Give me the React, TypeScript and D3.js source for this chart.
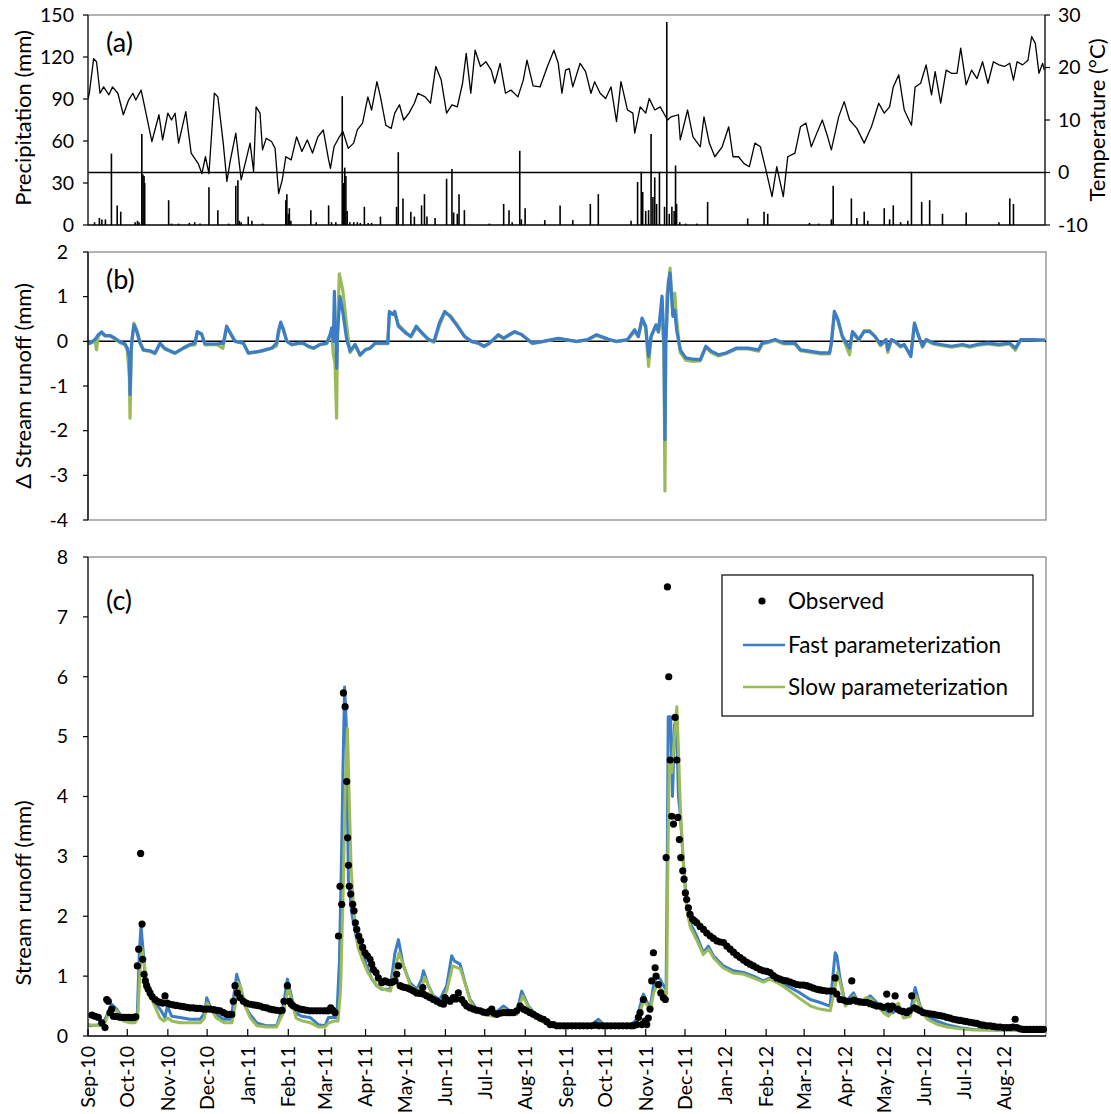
import React from "react";
import * as d3 from "d3";

// ---------- data (day offsets from 1 Sep 2010) ----------
const START = new Date(2010, 8, 1);
const END = new Date(2012, 8, 1);

const monthLabels = [
  "Sep-10", "Oct-10", "Nov-10", "Dec-10", "Jan-11", "Feb-11", "Mar-11", "Apr-11",
  "May-11", "Jun-11", "Jul-11", "Aug-11", "Sep-11", "Oct-11", "Nov-11", "Dec-11",
  "Jan-12", "Feb-12", "Mar-12", "Apr-12", "May-12", "Jun-12", "Jul-12", "Aug-12",
];

const precipTicks = [0, 30, 60, 90, 120, 150];
const tempTicks = [-10, 0, 10, 20, 30];
const deltaTicks = [-4, -3, -2, -1, 0, 1, 2];
const runoffTicks = [0, 1, 2, 3, 4, 5, 6, 7, 8];

// daily air temperature (°C)
const temperature: [number, number][] = [
  [0, 14.0], [1, 15.1], [4.3, 21.7], [6.5, 21.1], [9.2, 15.1], [11.9, 16.3], [16, 14.8], [18.7, 16.3], [22.8, 15.1],
  [27, 11], [31, 13.8], [34.3, 15.1], [36.5, 13.8], [40.6, 15.7], [43.3, 12.5], [48.8, 5.9], [54.2, 11],
  [57, 6.2], [61, 11.3], [63.8, 10], [66.5, 11.3], [69.2, 5.6], [74.7, 11.6], [78.8, 3.7], [84.2, 1.7],
  [87, -0.2], [89.7, 3], [92.4, -0.2], [96.5, 15.1], [99.2, 14.4], [103.3, 5.6], [106.1, -1.7], [108.8, 2.4],
  [112.9, 7.5], [117, -1.4], [123.8, 5.6], [126.5, 0.2], [128.4, 12.5], [131.4, 11.3], [133.3, 4.3],
  [136.1, 6.5], [140.2, 5.9], [142.9, 4.6], [145.6, -4], [148.4, -1.4], [151.1, 3], [155.2, 2.4],
  [159.3, 6.8], [163.4, 4], [167.5, 6.2], [171.5, 3.7], [175.6, 6.8], [179.7, 8.1], [183.8, 2.4],
  [185.2, 0.8], [187.9, 4.9], [192, 6.8], [194.7, 7.8], [198.8, 4.6], [202.9, 5.6], [205.7, 8.1],
  [209.7, 9.4], [213.8, 14.4], [216.6, 11.9], [220.7, 17.3], [223.4, 14.4], [227.5, 9], [231.6, 8.4],
  [234.3, 11.3], [237.9, 12.9], [241.1, 10], [245.2, 11.3], [249.3, 13.2], [252, 15.1], [257.5, 14.4],
  [261.6, 13.2], [265.7, 20.2], [269.8, 17.6], [273.9, 11.3], [278, 12.9], [282.1, 12.5], [286.1, 17],
  [288.9, 22.7], [292.4, 15.1], [295.7, 23.3], [299.8, 20.2], [303.9, 21.1], [308, 19.5], [310.7, 17],
  [314.8, 20.8], [318.9, 15.1], [323, 15.7], [328.4, 14.4], [332.5, 17.6], [335.3, 21.4], [340, 16.5],
  [345.3, 16.3], [350.9, 20.2], [355.9, 23.3], [359.2, 20.8], [362, 15.1], [364.8, 19.5], [367.6, 19.8],
  [370.3, 16.3], [375.9, 20.8], [380.1, 19.2], [384.2, 15.1], [387, 17.3], [391.2, 15.1], [395.4, 14.1],
  [399.5, 16.3], [403.7, 9.7], [407.1, 17.3], [412.1, 11.9], [416.2, 11.3], [417.6, 7.5], [421.8, 12.5],
  [426, 11.3], [428.7, 14.1], [432.9, 11.9], [437.1, 12.5], [442.7, 10], [445.4, 10.6], [451, 11],
  [452.4, 6.2], [458, 11.9], [462.1, 6.8], [467.7, 4.9], [470.5, 10.6], [474.6, 5.6], [478.8, 3],
  [484.4, 4.9], [489.4, 8.7], [492.7, 3], [496.9, 3], [501.1, 1.7], [505.2, 1.1], [509.4, 5.6],
  [513.6, 4.9], [517.8, 0.5], [522.5, -4.6], [526.1, 1.1], [531.1, -4.6], [534.5, 3], [540, 3.7],
  [544.2, 8.7], [548.4, 9.4], [552.5, 4.9], [556.7, 7.5], [560.9, 10], [565, 6.8], [567.8, 4.3],
  [573.4, 10.6], [577.6, 13.5], [581.7, 10], [587.3, 8.4], [592.9, 5.6], [598.4, 8.7], [604, 13.2],
  [608.2, 11.3], [612.3, 12.5], [615.1, 16.3], [619.3, 18.6], [623.5, 11.9], [629, 9], [631.8, 16.3],
  [636, 17], [640.2, 20.5], [644.3, 14.8], [647.1, 19.2], [651.3, 13.2], [655.5, 19.5], [659.6, 18.9],
  [663.8, 18.9], [666.6, 23.7], [670.8, 16.7], [674.9, 19.5], [679.1, 17.9], [683.3, 21.1], [687.4, 17],
  [691.6, 21.1], [695.8, 20.5], [700, 20.2], [704.1, 20.8], [706.9, 17.6], [709.7, 21.1], [713.9, 20.5],
  [718, 21.4], [720.8, 25.9], [723.6, 24.6], [726.4, 18.9], [729.2, 20.8], [730.5, 19.5],
];

// daily precipitation (mm)
const precipitation: [number, number][] = [
  [5, 2], [8.7, 5], [10.6, 4], [13.3, 4], [17.9, 51], [22.3, 14], [25, 9.5], [36, 2], [37.8, 3], [39, 2],
  [41.1, 65], [42, 36], [42.8, 35], [43.3, 30], [61.6, 17.7], [63.8, 1], [69.2, 1], [77.4, 1.5], [81.5, 2],
  [85.6, 1], [92.4, 27], [99.2, 10.6], [107.4, 1], [112.9, 28], [114.5, 32], [115.6, 3], [117, 2],
  [122.4, 6], [125.2, 3], [133.3, 1], [151.1, 17.7], [151.9, 22], [153, 8], [153.8, 12], [155, 3],
  [170.2, 10.6], [174.3, 2], [183.8, 14], [186, 2], [189.3, 2], [194.2, 92], [195.3, 30], [196.1, 41],
  [197, 35], [198, 10], [200, 2], [203, 2], [205.7, 2], [208, 1.5], [211.1, 13], [214, 1.5], [216.6, 1.5],
  [223.4, 6], [235.7, 13], [237, 52], [240.6, 19], [246.6, 9.5], [249.3, 6], [254.8, 14], [257, 22],
  [258.9, 6], [265.1, 5], [273.9, 33], [278, 40], [279.3, 9], [282.1, 8], [283.4, 22], [287.5, 10.6],
  [306.6, 1], [317.5, 15], [321.6, 10.6], [324, 2], [329.8, 53], [331, 4], [333.9, 12], [348.9, 3.5],
  [360.6, 14], [370.3, 3.5], [383.7, 15], [389.8, 22], [414.8, 3], [419.8, 30.7], [422.6, 38],
  [423.7, 23.6], [426, 10], [428.2, 10.6], [430.1, 65], [431.5, 20], [432.9, 34], [434.3, 15],
  [436.5, 38], [440.4, 13], [442.1, 145], [444, 8], [446, 13], [447.7, 10], [448.8, 42.5], [449.6, 15],
  [452, 2], [456.6, 1], [465, 1], [473.3, 16.5], [503.9, 4.7], [516.4, 9.5], [519.2, 8], [551.1, 1.5],
  [558.1, 1], [567.8, 4], [569.2, 28], [583.1, 19], [587.3, 5], [592.9, 9.5], [595.6, 3], [608.2, 12],
  [612.3, 4], [615.1, 14], [620.7, 2], [626.2, 3], [629, 38], [636.8, 16.5], [642.9, 17.7], [652.7, 8],
  [670.8, 9], [695.8, 2], [704.1, 19], [706.9, 15],
];

// (b) difference in stream runoff (mm)
const deltaFast: [number, number][] = [
  [0, -0.04], [1.5, -0.04], [5.3, 0.04], [7.9, 0.15], [10.4, 0.21], [13, 0.13], [16.8, 0.13], [20.6, 0.07],
  [24.4, -0.01], [28.3, -0.06], [30, -0.15], [31.6, -0.37], [32.1, -1.19], [33, -0.2], [33.4, 0],
  [35.1, 0.37], [37.2, 0.22], [39.7, -0.04], [42.3, -0.19], [47.4, -0.21], [51.2, -0.26], [55, -0.04],
  [58.8, -0.16], [66.5, -0.26], [72.8, -0.15], [77.9, -0.07], [81.7, -0.04], [83.5, 0.22], [86.8, 0.16],
  [89.4, -0.06], [98.3, -0.06], [103.4, -0.04], [105.9, 0.34], [108.5, 0.19], [112.3, 0], [118.7, -0.04],
  [122.5, -0.26], [131.4, -0.22], [140.3, -0.15], [144.1, -0.04], [145.4, 0.22], [147.2, 0.43],
  [149.2, 0.26], [151.8, 0], [155.6, -0.07], [160.7, -0.04], [164.5, -0.04], [168.3, -0.11], [172.2, -0.15],
  [177.2, -0.07], [182.3, -0.04], [184.9, 0.15], [186.2, 0.3], [187.4, 0], [188.2, 1.12], [188.9, 0.1],
  [189.5, -0.07], [189.9, -0.6], [190.4, 0], [191.2, 0.45], [192.5, 1.0], [194.6, 0.67], [197.6, 0.04],
  [200.2, -0.22], [204, -0.07], [207.8, -0.3], [211.7, -0.19], [215.5, -0.15], [219.3, -0.04],
  [225.7, -0.04], [229, -0.04], [230.2, 0.67], [232.9, 0.6], [234.3, 0.67], [237, 0.34], [242.5, 0.19],
  [246.6, 0.11], [250.7, 0.34], [256.1, 0.15], [260.2, 0.04], [264.3, 0], [268.4, 0.41], [272.5, 0.67],
  [276.6, 0.56], [282.1, 0.34], [287.5, 0.11], [293, 0], [298.4, -0.04], [302.5, -0.11], [306.6, -0.04],
  [313.4, 0.15], [317.5, 0.07], [325.7, 0.22], [331.2, 0.15], [339.3, -0.04], [347.5, 0], [359.2, 0.07],
  [373.1, 0], [381.5, 0.04], [388.4, 0.15], [398.2, 0.04], [403.7, 0], [412.1, 0.04], [417.6, 0.26],
  [420.4, 0.11], [423.2, 0.52], [426, 0.34], [428.2, -0.34], [430.1, 0.11], [433.8, 0.37], [435.7, 0.22],
  [438.5, 1.01], [439.9, 0], [440.7, -2.2], [441.3, 0], [442.1, 0.41], [443.2, 1.31], [444.6, 1.53],
  [446.8, 0.56], [448.2, 0.7], [449.6, 0.26], [452.4, -0.19], [456.6, -0.37], [462.1, -0.4],
  [467.7, -0.41], [471.9, -0.11], [476, -0.22], [481.6, -0.3], [487.2, -0.26], [495.5, -0.15],
  [503.9, -0.15], [512.2, -0.19], [515, -0.04], [520.5, 0], [524.7, 0.04], [531.7, -0.04], [540, -0.04],
  [544.2, -0.19], [551.1, -0.22], [559.5, -0.26], [566.4, -0.26], [567.8, -0.04], [570.1, 0.67],
  [572.8, 0.49], [576.2, 0.11], [581.7, -0.15], [584, 0.22], [588.7, 0.04], [592.9, 0.22], [597, 0.22],
  [601.2, 0.11], [605.4, -0.07], [609.6, 0.04], [610.9, -0.19], [613.7, 0.04], [616.5, 0], [620.7, -0.11],
  [623.5, -0.07], [628.5, -0.34], [631.3, 0.41], [634.6, 0.11], [637.4, -0.11], [640.2, 0.04],
  [645.7, -0.04], [651.3, -0.07], [659.6, -0.11], [668, -0.07], [673.5, -0.11], [679.1, -0.07],
  [687.4, -0.04], [695.8, -0.07], [704.1, -0.04], [708.3, -0.15], [712.5, 0.04], [720.8, 0.04], [731, 0.03],
];

const deltaSlow: [number, number][] = [
  [0, -0.06], [5.3, 0], [6.5, -0.19], [7.9, 0.12], [10.4, 0.19], [13, 0.12], [16.8, 0.12], [20.6, 0.05],
  [24.4, -0.03], [28.3, -0.08], [30, -0.2], [31.6, -0.8], [32.1, -1.72], [33, -0.3], [33.4, -0.05],
  [35.1, 0.41], [37.2, 0.27], [39.7, 0], [42.3, -0.2], [47.4, -0.23], [51.2, -0.28], [55, -0.06],
  [58.8, -0.18], [66.5, -0.27], [72.8, -0.16], [77.9, -0.09], [81.7, -0.08], [83.5, 0.2], [86.8, 0.17],
  [89.4, -0.08], [98.3, -0.07], [103, -0.16], [105.9, 0.3], [108.5, 0.21], [112.3, 0.01], [118.7, -0.05],
  [122.5, -0.27], [131.4, -0.23], [140.3, -0.16], [144.1, -0.1], [145.4, 0.15], [147.2, 0.4],
  [149.2, 0.29], [151.8, 0.02], [155.6, -0.08], [160.7, -0.05], [164.5, -0.05], [168.3, -0.12],
  [172.2, -0.16], [177.2, -0.08], [182.3, -0.05], [184.9, 0.1], [186.2, 0.2], [187.4, -0.3],
  [188.7, -0.5], [189.9, -1.72], [190.6, 0.3], [192, 1.51], [194.6, 1.15], [197.6, 0.35], [199, 0.02],
  [200.2, -0.25], [204, -0.08], [207.8, -0.32], [211.7, -0.2], [215.5, -0.16], [219.3, -0.05],
  [225.7, -0.05], [229, -0.05], [230.2, 0.6], [232.9, 0.62], [234.3, 0.64], [237, 0.38], [242.5, 0.21],
  [246.6, 0.1], [250.7, 0.3], [256.1, 0.17], [260.2, 0.03], [264.3, -0.02], [268.4, 0.35], [272.5, 0.64],
  [276.6, 0.58], [282.1, 0.37], [287.5, 0.12], [293, -0.01], [298.4, -0.05], [302.5, -0.12],
  [306.6, -0.05], [313.4, 0.13], [317.5, 0.06], [325.7, 0.2], [331.2, 0.16], [339.3, -0.05],
  [347.5, -0.01], [359.2, 0.06], [373.1, -0.01], [381.5, 0.03], [388.4, 0.13], [398.2, 0.03],
  [403.7, -0.01], [412.1, 0.03], [417.6, 0.22], [420.4, 0.1], [423.2, 0.48], [426, 0.3], [428.2, -0.56],
  [430.1, 0.1], [433.8, 0.34], [435.7, 0.2], [438.5, 0.6], [439.9, -0.2], [440.7, -3.35], [441.3, -0.2],
  [442.1, 1.0], [443.5, 1.3], [444.6, 1.64], [446.8, 0.6], [448.2, 1.08], [449.6, 0.5], [451, 0.1],
  [452.4, -0.25], [456.6, -0.42], [462.1, -0.45], [467.7, -0.44], [471.9, -0.14], [476, -0.25],
  [481.6, -0.33], [487.2, -0.28], [495.5, -0.17], [503.9, -0.17], [512.2, -0.22], [515, -0.06],
  [520.5, -0.02], [524.7, 0.02], [531.7, -0.06], [540, -0.06], [544.2, -0.21], [551.1, -0.24],
  [559.5, -0.28], [566.4, -0.28], [567.8, -0.06], [570.1, 0.6], [572.8, 0.46], [576.2, 0.1],
  [581.7, -0.3], [584, 0.2], [588.7, 0.02], [592.9, 0.24], [597, 0.24], [601.2, 0.1], [605.4, -0.1],
  [609.6, 0.02], [610.9, -0.25], [613.7, 0.02], [616.5, -0.02], [620.7, -0.13], [623.5, -0.09],
  [628.5, -0.3], [631.3, 0.38], [634.6, 0.1], [637.4, -0.13], [640.2, 0.02], [645.7, -0.06],
  [651.3, -0.09], [659.6, -0.13], [668, -0.09], [673.5, -0.13], [679.1, -0.09], [687.4, -0.06],
  [695.8, -0.09], [704.1, -0.06], [708.3, -0.2], [712.5, 0.03], [720.8, 0.03], [731, 0.02],
];

// (c) stream runoff (mm)
const observed: [number, number][] = [
  [3, 0.35], [5.4, 0.33], [7.9, 0.31], [10.5, 0.22], [13, 0.14], [14.3, 0.61], [15.5, 0.58], [16.8, 0.39],
  [18.1, 0.45], [19.4, 0.33], [21, 0.33], [23.2, 0.32], [25, 0.31], [27, 0.31], [29, 0.31], [31, 0.31],
  [33, 0.31], [35, 0.31], [36.5, 0.32], [37.7, 1.17], [38.7, 1.45], [40.2, 3.05], [41.3, 1.87],
  [41.8, 1.28], [42.8, 1.03], [43.8, 0.92], [44.8, 0.84], [46, 0.78], [47.4, 0.72], [49, 0.66],
  [51.2, 0.61], [53, 0.58], [55, 0.56], [57, 0.55], [58.8, 0.67], [60.5, 0.55], [62.7, 0.53], [65, 0.52],
  [67.5, 0.51], [70.3, 0.5], [73, 0.49], [75.5, 0.48], [77.9, 0.47], [80.5, 0.47], [83, 0.46],
  [85.6, 0.46], [88, 0.45], [90.5, 0.45], [93.2, 0.45], [96, 0.44], [98.5, 0.43], [100.9, 0.42],
  [103.5, 0.39], [105.9, 0.36], [108, 0.36], [109.8, 0.36], [111, 0.58], [112.3, 0.84], [114.1, 0.72],
  [116.1, 0.64], [118.7, 0.58], [121, 0.55], [123.8, 0.53], [126.5, 0.52], [129, 0.51], [131.4, 0.5],
  [134, 0.48], [136.5, 0.47], [139, 0.45], [141.5, 0.44], [144, 0.43], [146.7, 0.42], [148.3, 0.43],
  [149.7, 0.58], [152.3, 0.84], [153.8, 0.58], [155.3, 0.53], [156.9, 0.5], [159.5, 0.47], [162, 0.45],
  [164.5, 0.44], [167, 0.43], [169.6, 0.42], [172, 0.42], [174.6, 0.42], [177.2, 0.42], [179.8, 0.42],
  [182, 0.42], [183.6, 0.42], [185.4, 0.47], [187, 0.43], [188.7, 0.39], [191.3, 1.67], [192.5, 2.5],
  [193.8, 2.2], [195.1, 5.73], [196.4, 5.5], [197.6, 4.25], [198.3, 3.31], [199, 2.85], [199.6, 2.5],
  [200.7, 2.37], [202.2, 2.2], [203.2, 2.09], [204.2, 1.89], [205.3, 1.78], [206.8, 1.67], [208.3, 1.59],
  [209.8, 1.48], [211.6, 1.39], [213.4, 1.34], [215.4, 1.28], [216.7, 1.2], [218, 1.11], [220, 1.06],
  [221.8, 0.97], [224.4, 0.89], [226.9, 0.92], [228.8, 0.9], [230.7, 0.89], [232.6, 0.9], [234.5, 0.92],
  [235.8, 1.03], [237.1, 1.17], [238.4, 0.84], [240.3, 0.82], [242.2, 0.81], [244.1, 0.8], [246, 0.78],
  [248.5, 0.75], [251.1, 0.72], [253.4, 0.71], [255.7, 0.81], [256.2, 0.7], [258.8, 0.67], [261.3, 0.64],
  [263.8, 0.61], [266.4, 0.58], [269, 0.55], [271.5, 0.53], [272.7, 0.64], [274.6, 0.6], [276.6, 0.58],
  [279.1, 0.64], [281, 0.62], [282.9, 0.72], [285.5, 0.61], [287.4, 0.55], [289.3, 0.5], [291.8, 0.47],
  [294.4, 0.45], [297, 0.43], [299.5, 0.42], [302, 0.4], [304.6, 0.39], [306.5, 0.41], [308.4, 0.45],
  [310.3, 0.38], [312.2, 0.36], [314.7, 0.38], [317.3, 0.39], [320, 0.39], [322.5, 0.39], [324.9, 0.39],
  [327.5, 0.42], [330, 0.5], [332.6, 0.45], [335, 0.42], [337.7, 0.39], [340.3, 0.36], [342.8, 0.33],
  [345.3, 0.3], [347.9, 0.28], [350.5, 0.24], [353, 0.19], [355.5, 0.19], [358, 0.17], [360.6, 0.17],
  [363.5, 0.17], [366.5, 0.17], [369.5, 0.17], [372.5, 0.17], [375.5, 0.17], [378.5, 0.17], [381.5, 0.17],
  [384.5, 0.17], [387.5, 0.18], [390.5, 0.17], [393.5, 0.17], [396.5, 0.17], [399.5, 0.17], [402.5, 0.17],
  [405.5, 0.17], [408.5, 0.17], [411.5, 0.17], [414.5, 0.17], [416.6, 0.17], [419.1, 0.19], [420.4, 0.31],
  [421.7, 0.39], [423, 0.19], [424.2, 0.61], [425.5, 0.25], [426.8, 0.19], [428, 0.3], [429.3, 0.45],
  [430.6, 0.92], [431.9, 1.39], [433.2, 1.14], [433.9, 1.0], [435.7, 0.86], [437.5, 0.72], [439.5, 0.64],
  [441, 0.61], [441.6, 2.98], [442.6, 7.5], [443.6, 6.0], [444.7, 4.61], [445.9, 3.67], [447.2, 3.54],
  [448.5, 5.32], [449.8, 4.61], [450.5, 3.65], [451.7, 3.28], [452.8, 2.98], [454.3, 2.76], [455.3, 2.62],
  [456.3, 2.39], [457.3, 2.28], [458.6, 2.14], [459.9, 2.03], [461.9, 1.95], [463.5, 1.92], [465, 1.89],
  [467.5, 1.83], [470.1, 1.78], [472.6, 1.72], [475.2, 1.67], [477.7, 1.63], [480.3, 1.59], [482.8, 1.57],
  [485.4, 1.56], [488, 1.5], [490.5, 1.45], [493, 1.4], [495.5, 1.35], [498.1, 1.31], [500.6, 1.27],
  [503.2, 1.23], [505.7, 1.2], [508.3, 1.17], [510.8, 1.14], [513.4, 1.11], [516, 1.09], [518.5, 1.08],
  [521, 1.06], [523.5, 1.01], [526.1, 0.97], [528.6, 0.95], [531.2, 0.93], [533.7, 0.92], [536.3, 0.9],
  [538.8, 0.88], [541.4, 0.86], [543.9, 0.85], [546.5, 0.85], [549, 0.84], [551.6, 0.82], [554.1, 0.8],
  [556.7, 0.78], [559.2, 0.77], [561.8, 0.76], [564.3, 0.75], [566.9, 0.75], [569.4, 0.75], [570.7, 0.97],
  [572, 0.7], [574.5, 0.61], [577, 0.6], [579.6, 0.58], [582, 0.58], [583.4, 0.92], [585, 0.6],
  [587.2, 0.58], [589.7, 0.57], [592.3, 0.56], [594.9, 0.56], [597.4, 0.54], [600, 0.52], [602.5, 0.5],
  [605, 0.5], [607.6, 0.48], [610.1, 0.7], [611, 0.5], [612.7, 0.45], [614.5, 0.5], [616.5, 0.67],
  [618.4, 0.45], [620.3, 0.42], [622.8, 0.41], [625.4, 0.39], [627.3, 0.42], [629.2, 0.67], [631.2, 0.47],
  [633.1, 0.45], [635.6, 0.42], [638.1, 0.39], [640.7, 0.38], [643.2, 0.37], [645.8, 0.36], [648.3, 0.35],
  [650.9, 0.34], [653.4, 0.33], [656, 0.31], [658.5, 0.3], [661.1, 0.28], [663.6, 0.27], [666.2, 0.26],
  [668.7, 0.25], [671.2, 0.24], [673.8, 0.23], [676.3, 0.22], [678.9, 0.21], [681.4, 0.19], [684, 0.18],
  [686.5, 0.17], [689.1, 0.17], [691.6, 0.16], [694.2, 0.15], [696.7, 0.15], [699.3, 0.14], [701.8, 0.14],
  [704.4, 0.14], [706.5, 0.15], [708.2, 0.28], [709.5, 0.14], [712, 0.12], [714.6, 0.11], [717.1, 0.11],
  [719.7, 0.11], [722.2, 0.11], [724.7, 0.11], [727.3, 0.11], [729.8, 0.11],
];

const fastRunoff: [number, number][] = [
  [0, 0.19], [1.5, 0.17], [9.2, 0.19], [13, 0.28], [15.5, 0.39], [18.1, 0.53], [21.9, 0.45], [27, 0.28],
  [32.1, 0.25], [35.9, 0.25], [37.7, 0.39], [39.2, 1.39], [40.5, 1.84], [41.8, 1.5], [43.6, 1.0],
  [46.1, 0.75], [49.9, 0.58], [55, 0.45], [58.8, 0.31], [60.6, 0.5], [63.9, 0.33], [70.3, 0.31],
  [77.9, 0.28], [85.6, 0.28], [89.4, 0.39], [90.7, 0.64], [93.2, 0.5], [98.3, 0.36], [103.4, 0.28],
  [109.8, 0.28], [111, 0.61], [113.6, 1.03], [116.1, 0.84], [120, 0.5], [123.8, 0.36], [128.9, 0.22],
  [136.5, 0.17], [144.1, 0.17], [149.2, 0.5], [152.3, 0.95], [154.8, 0.72], [158.1, 0.39], [163.2, 0.33],
  [169.6, 0.31], [176, 0.19], [181.1, 0.17], [183.6, 0.31], [187.4, 0.31], [190, 0.31], [192, 1.22],
  [193.8, 3.17], [194.8, 4.5], [196, 5.83], [197.3, 5.2], [198.9, 2.62], [201.4, 2.06], [205.3, 1.61],
  [209.1, 1.39], [212.9, 1.17], [216.7, 0.95], [220.5, 0.84], [224.4, 0.78], [230.7, 0.78], [234.5, 1.39],
  [237.1, 1.61], [240.9, 1.17], [246, 0.89], [251.1, 0.78], [254.9, 0.95], [256.2, 1.09], [260, 0.84],
  [263.8, 0.67], [268.9, 0.61], [274, 0.84], [277.8, 1.34], [280, 1.25], [284.2, 1.2], [288, 0.89],
  [291.8, 0.61], [296.9, 0.45], [302, 0.39], [309.7, 0.36], [317.3, 0.5], [322.4, 0.42], [327.5, 0.39],
  [331.3, 0.75], [336.4, 0.5], [342.8, 0.33], [350.4, 0.22], [358, 0.17], [370.8, 0.16], [383.5, 0.17],
  [389.9, 0.28], [393.7, 0.19], [403.9, 0.17], [414.1, 0.17], [419.1, 0.28], [421.7, 0.5], [424.2, 0.7],
  [426.8, 0.58], [429.3, 0.45], [431.9, 0.84], [434.4, 1.0], [437, 0.95], [439.5, 0.84], [441.6, 0.78],
  [442.5, 3.0], [443.2, 5.33], [445, 5.33], [446.5, 4.0], [448, 5.2], [449.5, 5.3], [451, 4.0],
  [452.3, 3.73], [454.8, 2.9], [457.3, 2.17], [459.9, 1.89], [465, 1.67], [470.1, 1.39], [473.9, 1.5],
  [477.7, 1.34], [485.4, 1.17], [493, 1.09], [500.6, 1.06], [508.3, 1.0], [515.9, 0.92], [521, 0.97],
  [528.6, 0.89], [536.3, 0.81], [543.9, 0.72], [551.6, 0.61], [559.2, 0.56], [566.8, 0.5], [570.7, 1.39],
  [572, 1.34], [574.5, 0.95], [578.3, 0.56], [584.7, 0.72], [588.5, 0.56], [593.6, 0.61], [597.4, 0.67],
  [602.5, 0.56], [607.6, 0.45], [611.4, 0.39], [615.2, 0.39], [619.1, 0.5], [622.9, 0.33], [628, 0.39],
  [631.8, 0.81], [635.6, 0.5], [640.7, 0.33], [648.3, 0.25], [656, 0.19], [666.2, 0.14], [676.3, 0.11],
  [691.6, 0.1], [709.5, 0.1], [731, 0.1],
];

const slowRunoff: [number, number][] = [
  [0, 0.19], [9, 0.17], [13, 0.22], [16, 0.39], [18, 0.47], [22, 0.42], [27, 0.25], [32, 0.22], [36, 0.22],
  [38, 0.3], [39.5, 1.0], [41, 1.47], [43, 1.2], [45, 0.9], [48, 0.65], [52, 0.45], [55, 0.3], [58, 0.25],
  [61, 0.3], [64, 0.25], [70, 0.22], [78, 0.22], [86, 0.22], [89, 0.3], [91, 0.55], [94, 0.45], [98, 0.3],
  [104, 0.22], [110, 0.22], [112, 0.45], [114.5, 0.9], [117, 0.8], [120, 0.5], [124, 0.3], [129, 0.17],
  [137, 0.15], [144, 0.15], [149.5, 0.4], [153, 0.82], [156, 0.55], [159, 0.3], [164, 0.25], [170, 0.22],
  [176, 0.15], [181, 0.15], [184, 0.22], [188, 0.25], [191, 0.25], [193, 0.8], [195, 2.5], [196.5, 4.2],
  [198.2, 5.14], [199.5, 4.0], [201, 2.8], [203, 2.1], [206, 1.5], [210, 1.25], [214, 1.05], [218, 0.92],
  [222, 0.82], [226, 0.78], [231, 0.75], [234.5, 1.1], [237.5, 1.39], [241.5, 1.15], [246, 0.85],
  [251, 0.75], [255.5, 0.85], [257, 0.98], [261, 0.8], [264, 0.62], [269, 0.55], [274, 0.75],
  [278.5, 1.17], [284.5, 1.12], [288.5, 0.85], [292, 0.58], [297, 0.42], [302, 0.36], [310, 0.33],
  [317.5, 0.45], [322.5, 0.4], [327.5, 0.36], [332, 0.67], [336.5, 0.48], [343, 0.3], [350, 0.2],
  [358, 0.15], [371, 0.15], [384, 0.15], [390, 0.22], [394, 0.17], [404, 0.15], [414, 0.15], [419, 0.22],
  [422, 0.42], [424.5, 0.6], [427, 0.52], [429.5, 0.42], [432, 0.72], [434.5, 0.85], [437, 0.8],
  [439.5, 0.75], [442, 0.7], [443, 3.0], [444, 4.6], [446, 4.4], [448, 5.0], [449.8, 5.5], [451, 4.8],
  [452.5, 3.8], [455, 2.8], [457.5, 2.1], [460, 1.82], [465, 1.6], [470, 1.36], [474, 1.45], [478, 1.3],
  [485, 1.14], [493, 1.05], [501, 1.03], [508, 0.97], [516, 0.9], [521, 0.95], [529, 0.86], [536, 0.75],
  [544, 0.62], [552, 0.5], [559, 0.45], [567, 0.42], [570.5, 0.8], [572.5, 1.06], [575, 0.85],
  [578.5, 0.5], [585, 0.67], [589, 0.52], [594, 0.64], [598, 0.62], [603, 0.5], [608, 0.38], [611.5, 0.33],
  [615, 0.45], [619, 0.55], [623, 0.3], [628, 0.33], [632.5, 0.67], [636, 0.45], [641, 0.28], [648, 0.2],
  [656, 0.15], [666, 0.12], [676, 0.1], [692, 0.1], [710, 0.1], [731, 0.1],
];

// ---------- styles ----------
const FONT = "Lato, 'Open Sans', 'DejaVu Sans', sans-serif";
const BLUE = "#3b7dc6";
const GREEN = "#9bbb59";
const FRAME = "#9a9a9a";

const toDate = (d: number) => new Date(START.getTime() + d * 86400000);

export default function App() {
  const W = 1111;
  const H = 1114;
  const X0 = 88;
  const X1 = 1045;

  const x = d3.scaleTime().domain([START, END]).range([X0, X1]);
  const yP = d3.scaleLinear().domain([0, 150]).range([225, 15]);
  const yT = d3.scaleLinear().domain([-10, 30]).range([225, 15]);
  const yB = d3.scaleLinear().domain([-4, 2]).range([520, 252]);
  const yC = d3.scaleLinear().domain([0, 8]).range([1036, 557]);

  const mk = (ys: d3.ScaleLinear<number, number>) =>
    d3
      .line<[number, number]>()
      .x((d) => x(toDate(d[0])))
      .y((d) => ys(d[1]));

  const monthDates = d3.timeMonth.range(START, END);

  const tickFs = 19.5;
  const titleFs = 22;
  const legendFs = 22.5;
  const panelFs = 27;

  return (
    <div style={{ position: "absolute", left: 0, top: 0 }}>
      <svg width={W} height={H} style={{ display: "block", background: "#fff" }} fontFamily={FONT}>
        <rect x={0} y={0} width={W} height={H} fill="#fff" />
        <defs>
          <clipPath id="clipA"><rect x={X0} y={15} width={X1 - X0 + 1} height={210} /></clipPath>
          <clipPath id="clipB"><rect x={X0} y={252} width={X1 - X0 + 2} height={268} /></clipPath>
          <clipPath id="clipC"><rect x={X0} y={557} width={X1 - X0 + 2} height={479} /></clipPath>
        </defs>

        {/* ================= Panel (a) ================= */}
        <line x1={X0} x2={X1} y1={15} y2={15} stroke={FRAME} strokeWidth={1.5} />
        <g clipPath="url(#clipA)">
          {precipitation.map((p, i) => (
            <line key={i} x1={x(toDate(p[0]))} x2={x(toDate(p[0]))} y1={yP(0)} y2={yP(p[1])}
              stroke="#000" strokeWidth={1.6} />
          ))}
          <line x1={X0} x2={X1} y1={yT(0)} y2={yT(0)} stroke="#000" strokeWidth={1.3} />
          <path d={mk(yT)(temperature) || ""} fill="none" stroke="#000" strokeWidth={1.3} strokeLinejoin="round" />
        </g>
        <line x1={X0} x2={X1} y1={225} y2={225} stroke="#000" strokeWidth={1.3} />
        <line x1={X0} x2={X0} y1={15} y2={225} stroke="#000" strokeWidth={1.3} />
        <line x1={X1} x2={X1} y1={15} y2={225} stroke="#000" strokeWidth={1.3} />
        {precipTicks.map((t) => (
          <g key={"pt" + t}>
            <line x1={X0 - 5} x2={X0} y1={yP(t)} y2={yP(t)} stroke="#000" strokeWidth={1.2} />
            <text x={74} y={yP(t)} dy="0.35em" textAnchor="end" fontSize={tickFs}>{t}</text>
          </g>
        ))}
        {tempTicks.map((t) => (
          <g key={"tt" + t}>
            <line x1={X1} x2={X1 + 5} y1={yT(t)} y2={yT(t)} stroke="#000" strokeWidth={1.2} />
            <text x={1058} y={yT(t)} dy="0.35em" textAnchor="start" fontSize={tickFs}>{t}</text>
          </g>
        ))}
        <text transform="translate(23,118) rotate(-90)" textAnchor="middle" dy="0.35em" fontSize={titleFs}>Precipitation (mm)</text>
        <text transform="translate(1097,120) rotate(-90)" textAnchor="middle" dy="0.35em" fontSize={titleFs}>Temperature (°C)</text>
        <text x={106} y={52} fontSize={panelFs}>(a)</text>

        {/* ================= Panel (b) ================= */}
        <rect x={X0} y={252} width={X1 - X0 + 1} height={268} fill="none" stroke={FRAME} strokeWidth={1.5} />
        <g clipPath="url(#clipB)">
          <line x1={X0} x2={X1 + 1} y1={yB(0)} y2={yB(0)} stroke="#000" strokeWidth={1.5} />
          <path d={mk(yB)(deltaSlow) || ""} fill="none" stroke={GREEN} strokeWidth={3.2} strokeLinejoin="round" />
          <path d={mk(yB)(deltaFast) || ""} fill="none" stroke={BLUE} strokeWidth={3.2} strokeLinejoin="round" />
        </g>
        <line x1={X0} x2={X0} y1={252} y2={520} stroke="#000" strokeWidth={1.3} />
        {deltaTicks.map((t) => (
          <g key={"dt" + t}>
            <line x1={X0 - 5} x2={X0} y1={yB(t)} y2={yB(t)} stroke="#000" strokeWidth={1.2} />
            <text x={68} y={yB(t)} dy="0.35em" textAnchor="end" fontSize={tickFs}>{t}</text>
          </g>
        ))}
        <text transform="translate(23,386) rotate(-90)" textAnchor="middle" dy="0.35em" fontSize={titleFs}>Δ Stream runoff (mm)</text>
        <text x={106} y={289} fontSize={panelFs}>(b)</text>

        {/* ================= Panel (c) ================= */}
        <line x1={X0} x2={X1 + 1} y1={557} y2={557} stroke={FRAME} strokeWidth={1.5} />
        <line x1={X1 + 1} x2={X1 + 1} y1={557} y2={1036} stroke={FRAME} strokeWidth={1.5} />
        <g clipPath="url(#clipC)">
          <path d={mk(yC)(fastRunoff) || ""} fill="none" stroke={BLUE} strokeWidth={3} strokeLinejoin="round" />
          <path d={mk(yC)(slowRunoff) || ""} fill="none" stroke={GREEN} strokeWidth={3} strokeLinejoin="round" />
          {observed.map((o, i) => (
            <circle key={i} cx={x(toDate(o[0]))} cy={yC(o[1])} r={3.6} fill="#000" />
          ))}
        </g>
        <line x1={X0} x2={X1 + 1} y1={1036} y2={1036} stroke="#000" strokeWidth={1.5} />
        <line x1={X0} x2={X0} y1={557} y2={1036} stroke="#000" strokeWidth={1.3} />
        {runoffTicks.map((t) => (
          <g key={"rt" + t}>
            <line x1={X0 - 5} x2={X0} y1={yC(t)} y2={yC(t)} stroke="#000" strokeWidth={1.2} />
            <text x={68} y={yC(t)} dy="0.35em" textAnchor="end" fontSize={tickFs}>{t}</text>
          </g>
        ))}
        {monthDates.map((d, i) => (
          <g key={"m" + i}>
            <line x1={x(d)} x2={x(d)} y1={1036} y2={1029} stroke="#000" strokeWidth={1.2} />
            <text transform={`translate(${x(d)},1046) rotate(-90)`} textAnchor="end" dy="0.35em" fontSize={tickFs}>
              {monthLabels[i]}
            </text>
          </g>
        ))}
        <text transform="translate(23,893) rotate(-90)" textAnchor="middle" dy="0.35em" fontSize={titleFs}>Stream runoff (mm)</text>
        <text x={106} y={610} fontSize={panelFs}>(c)</text>

        {/* legend */}
        <rect x={722} y={575} width={311} height={141} fill="#fff" stroke="#000" strokeWidth={1.2} />
        <circle cx={762} cy={601} r={3.6} fill="#000" />
        <text x={788} y={601} dy="0.35em" fontSize={legendFs}>Observed</text>
        <line x1={743} x2={785} y1={645} y2={645} stroke={BLUE} strokeWidth={2.5} />
        <text x={788} y={645} dy="0.35em" fontSize={legendFs}>Fast parameterization</text>
        <line x1={743} x2={785} y1={687} y2={687} stroke={GREEN} strokeWidth={2.5} />
        <text x={788} y={687} dy="0.35em" fontSize={legendFs}>Slow parameterization</text>
      </svg>
    </div>
  );
}
